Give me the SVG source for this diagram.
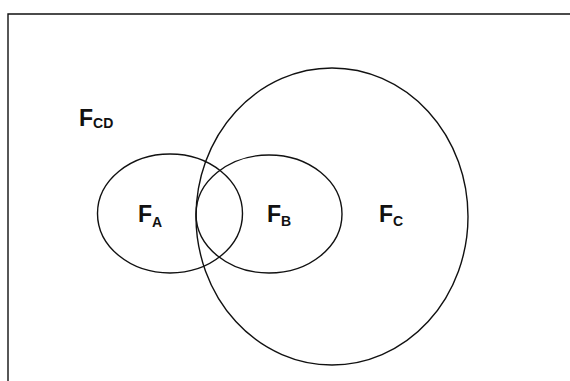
<svg xmlns="http://www.w3.org/2000/svg" width="570" height="381" viewBox="0 0 570 381">
<style>
.s{fill:none;stroke:#111;stroke-width:1.4}
.t{font-family:"Liberation Sans",Arial,sans-serif;font-weight:bold;fill:#111;font-size:23px}
.sub{font-size:14px}
</style>
<rect x="0" y="0" width="570" height="381" fill="#fff"/>
<path class="s" d="M8,381 V14 H570" stroke-width="1"/>
<g id="FC"><ellipse class="s" cx="332" cy="216.5" rx="136" ry="148.5"/><text class="t" x="379" y="222">F<tspan class="sub" dy="4">C</tspan></text></g>
<g id="FA"><ellipse class="s" cx="170" cy="213.5" rx="72.5" ry="59.5"/><text class="t" x="138" y="222">F<tspan class="sub" dy="5">A</tspan></text></g>
<g id="FB"><ellipse class="s" cx="269" cy="214" rx="73" ry="59"/><text class="t" x="267" y="222">F<tspan class="sub" dy="4">B</tspan></text></g>
<g id="FCD"><text class="t" x="79" y="126">F<tspan class="sub" dy="2">CD</tspan></text></g>
<g id="connectors"/>
</svg>
